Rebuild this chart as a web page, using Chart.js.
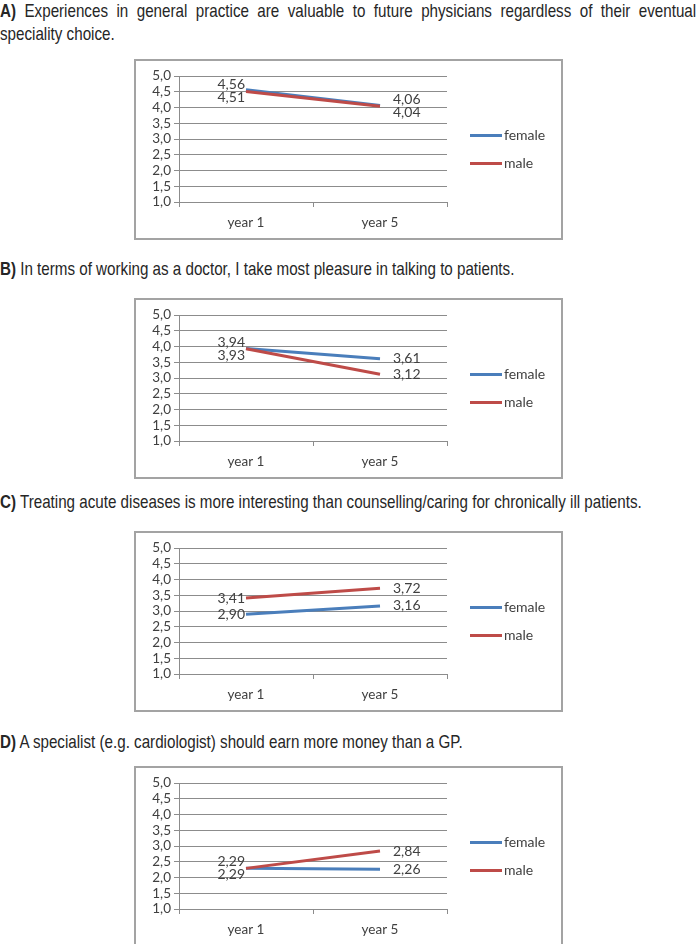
<!DOCTYPE html>
<html>
<head>
<meta charset="utf-8">
<script src="https://cdn.jsdelivr.net/npm/chart.js@4.4.0/dist/chart.umd.min.js"></script>
<style>
  body { margin: 0; background: #fff; width: 696px; height: 944px; overflow: hidden; position: relative; }
  /* narrow look: regular sans squeezed horizontally */
  .q { position: absolute; left: 0; width: 849px; font: 18.5px/23px "Liberation Sans", Arial, sans-serif; color: #262626;
       white-space: nowrap; transform: scaleX(0.82); transform-origin: 0 0; }
  .q b { font-weight: bold; }
  .just { text-align: justify; text-align-last: justify; }
  .box { position: absolute; left: 134px; width: 429px; height: 181px; border: 2px solid #a3a3a3; box-sizing: border-box; background: #fff; }
  .box canvas { display: block; }
</style>
</head>
<body>

<div class="q" style="top:-1px">
  <div class="just"><b>A)</b> Experiences in general practice are valuable to future physicians regardless of their eventual</div>
  <div>speciality choice.</div>
</div>
<div class="box" style="top:59px"><canvas id="chartA" width="425" height="177"></canvas></div>

<div class="q" style="top:257px"><b>B)</b> In terms of working as a doctor, I take most pleasure in talking to patients.</div>
<div class="box" style="top:298px"><canvas id="chartB" width="425" height="177"></canvas></div>

<div class="q" style="top:490px"><b>C)</b> Treating acute diseases is more interesting than counselling/caring for chronically ill patients.</div>
<div class="box" style="top:531px"><canvas id="chartC" width="425" height="177"></canvas></div>

<div class="q" style="top:730px"><b>D)</b> A specialist (e.g. cardiologist) should earn more money than a GP.</div>
<div class="box" style="top:766px"><canvas id="chartD" width="425" height="177"></canvas></div>

<script>
// Data
const categories = ['year 1', 'year 5'];
const seriesNames = ['female', 'male'];
const seriesColors = ['#4a7ebb', '#be4b48'];

const femaleA = [4.56, 4.06];
const maleA = [4.51, 4.04];

const femaleB = [3.94, 3.61];
const maleB = [3.93, 3.12];

const femaleC = [2.90, 3.16];
const maleC = [3.41, 3.72];

const femaleD = [2.29, 2.26];
const maleD = [2.29, 2.84];

const labelFont = '14px Lato';
const textColor = '#404040';
const gridColor = '#8c8c8c';

// comma as decimal separator, like the original
function comma(v, digits) {
    return Number(v).toFixed(digits).replace('.', ',');
}

// Value labels next to each point; nudge apart when the two series sit close together
const valueLabels = {
    id: 'valueLabels',
    afterDatasetsDraw(chart) {
        const ctx = chart.ctx;
        const metas = chart.data.datasets.map((d, i) => chart.getDatasetMeta(i));
        ctx.save();
        ctx.font = labelFont;
        ctx.fillStyle = textColor;
        ctx.textBaseline = 'middle';
        chart.data.datasets.forEach((dataset, i) => {
            metas[i].data.forEach((point, index) => {
                let y = point.y;
                const otherY = metas[1 - i].data[index].y;
                if (Math.abs(otherY - y) < 13) {
                    const mid = (otherY + y) / 2;
                    const above = y < otherY || (y === otherY && i === 0);
                    y = mid + (above ? -6.5 : 6.5);
                }
                const text = comma(dataset.data[index], 2);
                if (index === 0) {
                    ctx.textAlign = 'right';
                    ctx.fillText(text, point.x - 1, y);
                } else {
                    ctx.textAlign = 'left';
                    ctx.fillText(text, point.x + 13, y);
                }
            });
        });
        ctx.restore();
    }
};

// Excel-style legend on the right: short line + name
const sideLegend = {
    id: 'sideLegend',
    afterDraw(chart) {
        const ctx = chart.ctx;
        const x0 = chart.chartArea.right + 23;
        const midY = chart.height / 2;
        ctx.save();
        ctx.font = '14px Lato';
        ctx.fillStyle = textColor;
        ctx.textBaseline = 'middle';
        ctx.textAlign = 'left';
        chart.data.datasets.forEach((dataset, i) => {
            const y = midY + (i - 0.5) * 28;
            ctx.strokeStyle = dataset.borderColor;
            ctx.lineWidth = 3;
            ctx.beginPath();
            ctx.moveTo(x0, y);
            ctx.lineTo(x0 + 32, y);
            ctx.stroke();
            ctx.fillText(dataset.label, x0 + 34, y);
        });
        ctx.restore();
    }
};

function makeChart(id, femaleValues, maleValues) {
    const values = [femaleValues, maleValues];
    return new Chart(document.getElementById(id), {
        type: 'line',
        data: {
            labels: categories,
            datasets: seriesNames.map((name, i) => ({
                label: name,
                data: values[i],
                borderColor: seriesColors[i],
                backgroundColor: seriesColors[i],
                borderWidth: 3,
                pointRadius: 0,
                tension: 0,
                order: 1 - i // male line drawn on top
            }))
        },
        options: {
            responsive: false,
            animation: false,
            layout: { padding: { top: 15, right: 114, left: 0, bottom: 0 } },
            plugins: { legend: { display: false }, tooltip: { enabled: false } },
            scales: {
                x: {
                    offset: true,
                    grid: { drawOnChartArea: false, color: gridColor, tickLength: 5, offset: true },
                    border: { color: gridColor },
                    ticks: { color: textColor, font: { family: 'Lato', size: 13.5 }, padding: 8 },
                    afterFit(scale) { scale.height = 36; }
                },
                y: {
                    min: 1,
                    max: 5,
                    grid: { color: gridColor, tickLength: 5 },
                    border: { color: gridColor },
                    ticks: {
                        stepSize: 0.5,
                        autoSkip: false,
                        color: textColor,
                        font: { family: 'Lato', size: 13.5 },
                        padding: 3,
                        callback: v => comma(v, 1)
                    },
                    afterFit(scale) { scale.width = 43; }
                }
            }
        },
        plugins: [valueLabels, sideLegend]
    });
}

makeChart('chartA', femaleA, maleA);
makeChart('chartB', femaleB, maleB);
makeChart('chartC', femaleC, maleC);
makeChart('chartD', femaleD, maleD);
</script>
</body>
</html>
